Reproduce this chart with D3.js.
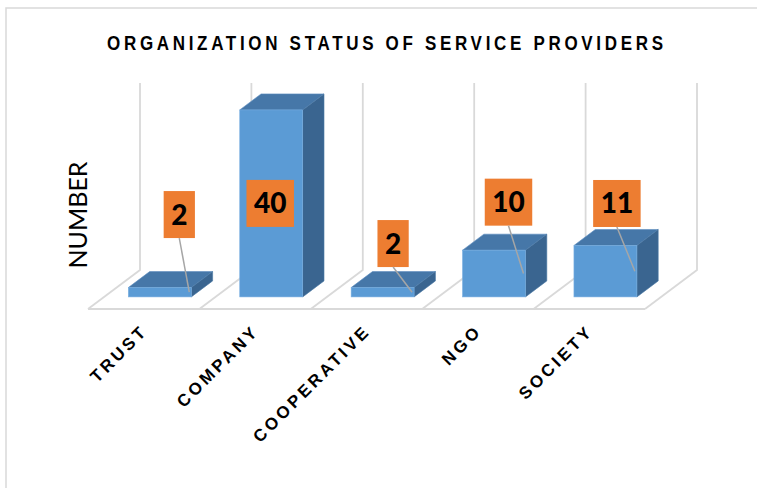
<!DOCTYPE html>
<html>
<head>
<meta charset="utf-8">
<script src="https://cdn.jsdelivr.net/npm/d3@7"></script>
<style>
  html, body { margin: 0; padding: 0; background: #ffffff; }
  svg { display: block; }
</style>
</head>
<body>
<svg id="chart" width="757" height="488"></svg>
<script>
// ---- data ----
const categories = ["TRUST", "COMPANY", "COOPERATIVE", "NGO", "SOCIETY"];
const values = [2, 40, 2, 10, 11];
const valueDomain = [0, 40];
const titleText = "ORGANIZATION STATUS OF SERVICE PROVIDERS";
const yTitle = "NUMBER";

// ---- layout (not data) ----
const floorFront = { x0: 88, x1: 645, y: 309 };
const depth = { dx: 52, dy: 39 };
const barZ = [0.31, 0.72];
const barFrac = 0.565;
const wallHeight = 187;
const labelOffset = [[-12, -73], null, [-21, -44], [-17, -48], [-20, -42]];

const colors = {
  front: "#5b9bd5", top: "#4677a8", side: "#3a6590",
  grid: "#d9d9d9", label: "#ed7d31", leader: "#a6a6a6", border: "#d9d9d9"
};

const svg = d3.select("#chart");

svg.append("rect")
  .attr("x", 6).attr("y", 8).attr("width", 820).attr("height", 520)
  .attr("fill", "#ffffff").attr("stroke", colors.border).attr("stroke-width", 1.5);

const x = d3.scaleBand().domain(categories).range([floorFront.x0, floorFront.x1]).padding(0);
const h = d3.scaleLinear().domain(valueDomain).range([0, wallHeight]);
const proj = (px, py, z) => [px + z * depth.dx, py - z * depth.dy];

// gridlines
const gridG = svg.append("g").attr("fill", "none").attr("stroke", colors.grid).attr("stroke-width", 1.8);
gridG.append("line")
  .attr("x1", floorFront.x0).attr("x2", floorFront.x1)
  .attr("y1", floorFront.y).attr("y2", floorFront.y);
const boundaries = categories.map(c => x(c)).concat([x.range()[1]]);
const line = d3.line();
gridG.selectAll("path.grid").data(boundaries).join("path")
  .attr("class", "grid")
  .attr("d", bx => {
    const p0 = [bx, floorFront.y];
    const p1 = proj(bx, floorFront.y, 1);
    const p2 = [p1[0], p1[1] - h(valueDomain[1])];
    return line([p0, p1, p2]);
  });

// bars
const bars = categories.map((c, i) => {
  const bw = x.bandwidth() * barFrac;
  const fx = x(c) + (x.bandwidth() - bw) / 2;
  const [L, B] = proj(fx, floorFront.y, barZ[0]);
  const R = L + bw;
  const T = B - h(values[i]);
  const ddx = (barZ[1] - barZ[0]) * depth.dx;
  const ddy = (barZ[1] - barZ[0]) * depth.dy;
  return { c, v: values[i], i, L, R, T, B, ddx, ddy };
});

const bg = svg.append("g").selectAll("g.bar").data(bars).join("g").attr("class", "bar");
bg.append("path")
  .attr("fill", colors.top)
  .attr("stroke", "#5a8cc0").attr("stroke-width", 0.6)
  .attr("d", d => line([[d.L, d.T], [d.L + d.ddx, d.T - d.ddy], [d.R + d.ddx, d.T - d.ddy], [d.R, d.T]]) + "Z");
bg.append("path")
  .attr("fill", colors.side)
  .attr("stroke", "#4a78a5").attr("stroke-width", 0.6)
  .attr("d", d => line([[d.R, d.T], [d.R + d.ddx, d.T - d.ddy], [d.R + d.ddx, d.B - d.ddy], [d.R, d.B]]) + "Z");
bg.append("rect")
  .attr("fill", colors.front)
  .attr("stroke", "#78aee0").attr("stroke-width", 0.6)
  .attr("x", d => d.L).attr("y", d => d.T)
  .attr("width", d => d.R - d.L).attr("height", d => d.B - d.T);

// data labels
const labG = svg.append("g");
bars.forEach((d, i) => {
  const off = labelOffset[i];
  let cx, cy;
  if (off) { cx = d.R + off[0]; cy = d.T + off[1]; }
  else { cx = (d.L + d.R) / 2 - 1; cy = (d.T + d.B) / 2; }
  const g = labG.append("g");
  const rect = g.append("rect").attr("fill", colors.label);
  const t = g.append("text")
    .attr("x", cx).attr("y", cy + 10)
    .attr("text-anchor", "middle")
    .attr("font-family", "Lato, 'Open Sans', sans-serif")
    .attr("font-weight", 900).attr("font-size", 28)
    .attr("fill", "#000000")
    .text(d.v);
  const tw = t.node().getComputedTextLength();
  const bw = tw + 15, bh = 47;
  rect.attr("x", cx - bw / 2).attr("y", cy - bh / 2).attr("width", bw).attr("height", bh);
  if (off) {
    labG.append("line")
      .attr("x1", cx).attr("y1", cy + bh / 2)
      .attr("x2", d.R - 2).attr("y2", (d.T + d.B) / 2)
      .attr("stroke", colors.leader).attr("stroke-width", 1.5);
  }
});

// category labels
svg.append("g").selectAll("text.cat").data(categories).join("text")
  .attr("class", "cat")
  .attr("transform", c => `translate(${x(c) + x.bandwidth() / 2 + 5},332) rotate(-45)`)
  .attr("text-anchor", "end")
  .attr("font-family", "'Liberation Sans', Arial, sans-serif")
  .attr("font-weight", 700).attr("font-size", 17)
  .attr("letter-spacing", 3.2)
  .attr("fill", "#000000")
  .text(c => c);

// y-axis title
svg.append("text")
  .attr("transform", "translate(87,215) rotate(-90)")
  .attr("text-anchor", "middle")
  .attr("font-family", "Lato, 'Open Sans', sans-serif")
  .attr("font-size", 25)
  .attr("fill", "#000000")
  .text(yTitle);

// chart title
svg.append("text")
  .attr("transform", "translate(385,50) scale(0.85,1)")
  .attr("text-anchor", "middle")
  .attr("font-family", "'Liberation Sans', Arial, sans-serif")
  .attr("font-weight", 700).attr("font-size", 20)
  .attr("textLength", 556 / 0.85).attr("lengthAdjust", "spacing")
  .attr("fill", "#000000")
  .text(titleText);
</script>
</body>
</html>
